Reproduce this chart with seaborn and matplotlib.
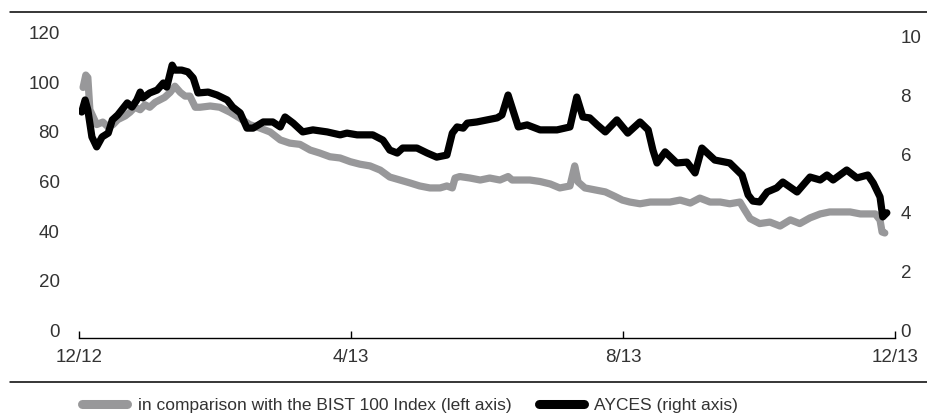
import matplotlib
matplotlib.use("Agg")
import matplotlib.pyplot as plt
from matplotlib.lines import Line2D
import seaborn as sns
import pandas as pd

# Data (x in months since 12/12)
bist_months = [0.06, 0.10, 0.13, 0.16, 0.21, 0.26, 0.35, 0.43, 0.50, 0.57, 0.68, 0.75, 0.82, 0.90, 0.97,
               1.04, 1.12, 1.19, 1.26, 1.34, 1.41, 1.49, 1.56, 1.63, 1.71, 1.78, 1.93, 2.07, 2.22, 2.37,
               2.51, 2.66, 2.81, 2.96, 3.10, 3.25, 3.40, 3.54, 3.69, 3.84, 3.99, 4.13, 4.28, 4.43, 4.57,
               4.72, 4.87, 5.01, 5.16, 5.31, 5.41, 5.49, 5.53, 5.60, 5.75, 5.90, 6.04, 6.19, 6.31, 6.37,
               6.49, 6.63, 6.78, 6.93, 7.07, 7.22, 7.29, 7.34, 7.44, 7.59, 7.74, 7.88, 7.99, 8.10, 8.25,
               8.40, 8.54, 8.69, 8.84, 8.99, 9.13, 9.28, 9.43, 9.57, 9.72, 9.79, 9.87, 10.01, 10.16, 10.31,
               10.46, 10.60, 10.75, 10.90, 11.04, 11.19, 11.34, 11.49, 11.71, 11.78, 11.81, 11.85]
bist_values = [98, 103, 102, 89, 86, 83, 84, 82, 83, 85, 86.5, 88, 90, 89, 91,
               90, 92, 93, 94, 96, 98.5, 96, 94.5, 94.5, 90, 90, 90.5, 90, 88, 85.5,
               83, 81.6, 80, 76.8, 75.5, 75, 72.7, 71.5, 70, 69.5, 68, 67, 66.3, 64.6, 61.8,
               60.6, 59.4, 58.2, 57.4, 57.4, 58.2, 57.4, 61.4, 62, 61.4, 60.6, 61.4, 60.6, 62, 60.6,
               60.6, 60.6, 60, 59, 57.4, 58.2, 66.3, 59.8, 57.4, 56.6, 55.8, 54, 52.5, 51.7, 51,
               51.7, 51.7, 51.7, 52.5, 51.3, 53.3, 51.7, 51.7, 51, 51.7, 48.5, 45, 43, 43.6, 42,
               44.5, 43, 45.3, 46.9, 47.7, 47.7, 47.7, 46.9, 46.9, 44.4, 39.6, 39.2]

ayces_months = [0.04, 0.09, 0.13, 0.19, 0.26, 0.34, 0.43, 0.49, 0.57, 0.71, 0.78, 0.85, 0.90, 0.94,
                1.04, 1.15, 1.24, 1.29, 1.37, 1.41, 1.51, 1.60, 1.68, 1.75, 1.90, 2.03, 2.18, 2.26, 2.37,
                2.47, 2.56, 2.71, 2.85, 2.96, 3.03, 3.15, 3.29, 3.44, 3.65, 3.84, 3.94, 4.09, 4.32, 4.47,
                4.57, 4.68, 4.76, 4.97, 5.12, 5.26, 5.41, 5.49, 5.56, 5.65, 5.71, 5.85, 6.00, 6.15, 6.22,
                6.31, 6.38, 6.46, 6.59, 6.78, 7.03, 7.22, 7.32, 7.41, 7.51, 7.62, 7.74, 7.91, 8.07, 8.25,
                8.37, 8.44, 8.50, 8.62, 8.79, 8.94, 9.06, 9.16, 9.35, 9.57, 9.75, 9.84, 9.91, 10.01, 10.12,
                10.26, 10.35, 10.56, 10.75, 10.90, 11.00, 11.09, 11.29, 11.44, 11.60, 11.68, 11.78, 11.82, 11.88]
ayces_values = [7.44, 7.85, 7.51, 6.59, 6.25, 6.59, 6.72, 7.17, 7.34, 7.75, 7.61, 7.85, 8.12, 7.92,
                8.09, 8.19, 8.43, 8.29, 9.04, 8.87, 8.87, 8.81, 8.60, 8.09, 8.12, 8.02, 7.85, 7.61, 7.41,
                6.89, 6.89, 7.10, 7.10, 6.93, 7.27, 7.06, 6.76, 6.83, 6.76, 6.66, 6.72, 6.66, 6.66, 6.48,
                6.14, 6.04, 6.21, 6.21, 6.04, 5.90, 5.97, 6.72, 6.93, 6.89, 7.06, 7.10, 7.17, 7.24, 7.34,
                8.02, 7.51, 6.93, 7.00, 6.83, 6.83, 6.93, 7.95, 7.27, 7.24, 7.00, 6.76, 7.17, 6.72, 7.10,
                6.83, 6.14, 5.70, 6.08, 5.70, 5.73, 5.36, 6.21, 5.80, 5.70, 5.29, 4.61, 4.40, 4.37, 4.71,
                4.85, 5.05, 4.71, 5.22, 5.12, 5.29, 5.12, 5.46, 5.19, 5.29, 5.02, 4.54, 3.86, 4.00]

x_ticks = [0, 4, 8, 12]
x_labels = ['12/12', '4/13', '8/13', '12/13']
left_ticks = [0, 20, 40, 60, 80, 100, 120]
right_ticks = [0, 2, 4, 6, 8, 10]
bist_label = 'in comparison with the BIST 100 Index (left axis)'
ayces_label = 'AYCES (right axis)'

bist_df = pd.DataFrame({'month': bist_months, 'value': bist_values})
ayces_df = pd.DataFrame({'month': ayces_months, 'value': ayces_values})

sns.set_style('white')
plt.rcParams['font.family'] = ['Liberation Sans', 'DejaVu Sans']

gray = '#98989a'
text_col = '#333333'

fig = plt.figure(figsize=(9.28, 4.18), dpi=100)
ax = fig.add_axes([79 / 928, 1 - 338 / 418, (895 - 79) / 928, (338 - 20) / 418])
ax2 = ax.twinx()

sns.lineplot(data=bist_df, x='month', y='value', ax=ax, color=gray, linewidth=5.2,
             solid_capstyle='round', solid_joinstyle='round')
sns.lineplot(data=ayces_df, x='month', y='value', ax=ax2, color='black', linewidth=5.2,
             solid_capstyle='round', solid_joinstyle='round')

ax.set_xlim(0, 12)
ax.set_ylim(-3.23, 125.25)
ax2.set_ylim(-0.273, 10.58)

ax.set_xticks(x_ticks)
ax.set_xticklabels(x_labels)
ax.set_yticks(left_ticks)
ax2.set_yticks(right_ticks)
ax.set_xlabel('')
ax.set_ylabel('')
ax2.set_ylabel('')

for a in (ax, ax2):
    for side in ['top', 'left', 'right', 'bottom']:
        a.spines[side].set_visible(False)
ax.spines['bottom'].set_visible(True)
ax.spines['bottom'].set_color('black')
ax.spines['bottom'].set_linewidth(1.0)

ax.tick_params(axis='x', direction='in', length=5, width=1, color='black', pad=8,
               labelsize=13.5, labelcolor=text_col, bottom=True)
ax.tick_params(axis='y', length=0, pad=14, labelsize=13.5, labelcolor=text_col)
ax2.tick_params(axis='y', length=0, pad=4, labelsize=13.5, labelcolor=text_col)
ax.grid(False)
ax2.grid(False)

# horizontal rules above and below the chart
fig.add_artist(Line2D([10 / 928, 1], [1 - 12 / 418] * 2, color='black', linewidth=1.1))
fig.add_artist(Line2D([10 / 928, 1], [1 - 382 / 418] * 2, color='black', linewidth=1.1))

handles = [Line2D([], [], color=gray, linewidth=6.5, solid_capstyle='round'),
           Line2D([], [], color='black', linewidth=6.5, solid_capstyle='round')]
fig.legend(handles, [bist_label, ayces_label], loc='center', bbox_to_anchor=(0.442, 0.031),
           ncol=2, frameon=False, fontsize=12.5, handlelength=2.6, handletextpad=0.6,
           columnspacing=1.6, labelcolor=text_col)

fig.savefig('out.png', dpi=100)
